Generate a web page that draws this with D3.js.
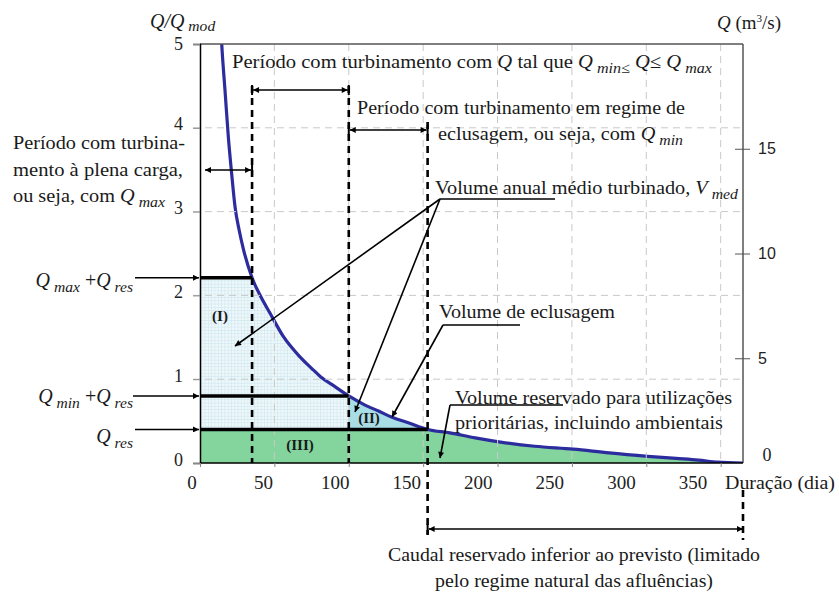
<!DOCTYPE html>
<html><head><meta charset="utf-8">
<script src="https://cdn.jsdelivr.net/npm/d3@7/dist/d3.min.js"></script>
<style>
body{margin:0;background:#fff}
svg{display:block}
</style></head>
<body>
<svg id="c" width="839" height="592"></svg>
<script>
// ---- data ----
const days   = [8, 12, 14.6, 17, 19, 21.3, 23.6, 26.3, 29.2, 35, 41, 47, 56, 67, 75, 81, 90, 100, 110, 120, 130, 140, 153, 168, 185, 202, 225, 251, 275, 301, 320, 335, 348, 365];
const qRatio = [8.0, 6.0, 5.0, 4.4, 3.9, 3.45, 3.05, 2.78, 2.55, 2.21, 1.98, 1.79, 1.51, 1.27, 1.13, 1.03, 0.92, 0.80, 0.70, 0.62, 0.54, 0.48, 0.40, 0.36, 0.30, 0.25, 0.20, 0.165, 0.12, 0.08, 0.055, 0.035, 0.01, 0.0];
const xTicks = [0, 50, 100, 150, 200, 250, 300, 350];
const yTicksLeft = [0, 1, 2, 3, 4, 5];
const yTicksRight = [5, 10, 15];
const gridX = [50, 100, 150, 200, 250, 300, 350];
const gridY = [1, 2, 3, 4];
const QmaxRes = 2.21, QminRes = 0.80, Qres = 0.40;
const dayFull = 35, dayMin = 100, dayRes = 153, dayEnd = 365;

const svg = d3.select('#c');
const SERIF = '"Liberation Serif","Times New Roman",serif';
const SANS = '"Liberation Sans",Arial,sans-serif';

const x = d3.scaleLinear().domain([0, 365]).range([200, 743]);
const y = d3.scaleLinear().domain([0, 5]).range([463, 44]);
const yR = d3.scaleLinear().domain([0, 20]).range([463, 44]);
const xLab = d3.scaleLinear().domain([0, 350]).range([192, 693]);

const pts = days.map((d, i) => ({d, q: qRatio[i]}));

// defs
const defs = svg.append('defs');
const pat = defs.append('pattern').attr('id', 'hatch').attr('patternUnits', 'userSpaceOnUse').attr('width', 3.3).attr('height', 3.3);
pat.append('rect').attr('width', 3.3).attr('height', 3.3).attr('fill', '#eef8fb');
pat.append('path').attr('d', 'M0,0.3H3.3M0.3,0V3.3').attr('stroke', '#cfe6ee').attr('stroke-width', 0.7);
defs.append('clipPath').attr('id', 'plot').append('rect')
  .attr('x', x(0)).attr('y', y(5)).attr('width', x(365) - x(0)).attr('height', y(0) - y(5));
function marker(id, orient) {
  defs.append('marker').attr('id', id).attr('viewBox', '0 0 10 10').attr('refX', 10).attr('refY', 5)
    .attr('markerWidth', 9).attr('markerHeight', 6).attr('markerUnits', 'userSpaceOnUse').attr('orient', orient)
    .append('path').attr('d', 'M0,0L10,5L0,10z').attr('fill', '#000');
}
marker('ah', 'auto'); marker('ahs', 'auto-start-reverse');

const plot = svg.append('g').attr('clip-path', 'url(#plot)');

// hatched region (I)
const areaI = [{d: 0, q: QmaxRes}].concat(pts.filter(p => p.d <= dayMin).map(p => ({d: p.d, q: Math.min(p.q, QmaxRes)})));
const cv = d3.curveMonotoneX;
plot.append('path').datum(areaI)
  .attr('d', d3.area().x(p => x(p.d)).y0(y(Qres)).y1(p => y(p.q)).curve(cv))
  .attr('fill', 'url(#hatch)');

// grid
const grid = svg.append('g').attr('stroke', '#c9c9c9').attr('stroke-width', 1).attr('stroke-dasharray', '7,5');
grid.selectAll('.gx').data(gridX).join('line').attr('x1', d => x(d)).attr('x2', d => x(d)).attr('y1', y(5)).attr('y2', y(0));
grid.selectAll('.gy').data(gridY).join('line').attr('x1', x(0) - 7).attr('x2', x(365)).attr('y1', d => y(d)).attr('y2', d => y(d));

// region II
const areaII = pts.filter(p => p.d >= dayMin && p.d <= dayRes);
plot.append('path').datum(areaII)
  .attr('d', d3.area().x(p => x(p.d)).y0(y(Qres)).y1(p => y(p.q)).curve(cv))
  .attr('fill', '#a9dde6');

// green region III
const areaIII = [{d: 0, q: Qres}].concat(pts.filter(p => p.d >= dayRes));
plot.append('path').datum(areaIII)
  .attr('d', d3.area().x(p => x(p.d)).y0(y(0)).y1(p => y(p.q)).curve(cv))
  .attr('fill', '#84d49d');

// frame
svg.append('line').attr('x1', x(0)).attr('x2', x(365)).attr('y1', y(5)).attr('y2', y(5)).attr('stroke', '#555').attr('stroke-width', 1.5);
svg.append('line').attr('x1', x(365)).attr('x2', x(365)).attr('y1', y(5)).attr('y2', y(0)).attr('stroke', '#555').attr('stroke-width', 1.5);

// axes
const axL = svg.append('g').attr('transform', `translate(${x(0)},0)`)
  .call(d3.axisLeft(y).tickValues(yTicksLeft).tickSize(7).tickPadding(10).tickFormat(d3.format('d')));
axL.select('.domain').attr('stroke', '#000').attr('stroke-width', 1.5);
axL.selectAll('.tick line').attr('stroke', '#888');
axL.selectAll('.tick text').attr('font-family', SERIF).attr('font-size', 18).attr('fill', '#222').attr('dy', d => d === 5 ? '0.32em' : '0.12em');

const axB = svg.append('g').attr('transform', `translate(0,${y(0)})`)
  .call(d3.axisBottom(x).tickValues(xTicks).tickSize(4).tickFormat(''));
axB.select('.domain').attr('stroke', '#000').attr('stroke-width', 1.5).attr('d', `M${x(0)},0H${x(365)}`);
axB.selectAll('.tick line').attr('stroke', '#888');
svg.append('g').selectAll('text').data(xTicks).join('text')
  .attr('x', d => xLab(d)).attr('y', 489).attr('text-anchor', 'middle')
  .attr('font-family', SERIF).attr('font-size', 19).attr('fill', '#222').text(d => d);

const axR = svg.append('g').attr('transform', `translate(${x(365)},0)`)
  .call(d3.axisRight(yR).tickValues(yTicksRight).tickSize(7).tickPadding(8));
axR.select('.domain').remove();
axR.selectAll('.tick line').attr('x1', -8).attr('stroke', '#555');
axR.selectAll('.tick text').attr('font-family', SANS).attr('font-size', 16).attr('fill', '#222');
svg.append('text').attr('x', 767).attr('y', 461).attr('text-anchor', 'middle').attr('font-family', SERIF).attr('font-size', 18).attr('fill', '#222').text('0');

// curve
plot.append('path').datum(pts)
  .attr('d', d3.line().x(p => x(p.d)).y(p => y(p.q)).curve(cv))
  .attr('fill', 'none').attr('stroke', '#2c2c9e').attr('stroke-width', 3.2);

// thick level lines
const lev = svg.append('g').attr('stroke', '#000').attr('stroke-width', 3.5);
lev.append('line').attr('x1', x(0)).attr('x2', x(dayFull)).attr('y1', y(QmaxRes)).attr('y2', y(QmaxRes));
lev.append('line').attr('x1', x(0)).attr('x2', x(dayMin)).attr('y1', y(QminRes)).attr('y2', y(QminRes));
lev.append('line').attr('x1', x(0)).attr('x2', x(dayRes)).attr('y1', y(Qres)).attr('y2', y(Qres));

// dashed vertical lines
const dash = svg.append('g').attr('stroke', '#000').attr('stroke-width', 2.6).attr('stroke-dasharray', '7,5');
dash.append('line').attr('x1', x(dayFull)).attr('x2', x(dayFull)).attr('y1', 86).attr('y2', y(0));
dash.append('line').attr('x1', x(dayMin)).attr('x2', x(dayMin)).attr('y1', 86).attr('y2', y(0));
dash.append('line').attr('x1', x(dayRes)).attr('x2', x(dayRes)).attr('y1', 122).attr('y2', 535);
dash.append('line').attr('x1', x(dayEnd)).attr('x2', x(dayEnd)).attr('y1', 490).attr('y2', 540);

// arrows helper
const ann = svg.append('g').attr('stroke', '#000').attr('stroke-width', 1.6).attr('fill', 'none');
function arrow(x1, y1, x2, y2, start, end) {
  const l = ann.append('line').attr('x1', x1).attr('y1', y1).attr('x2', x2).attr('y2', y2);
  if (end) l.attr('marker-end', 'url(#ah)');
  if (start) l.attr('marker-start', 'url(#ahs)');
}
function bar(xx, yy) { ann.append('line').attr('x1', xx).attr('x2', xx).attr('y1', yy - 5).attr('y2', yy + 5).attr('stroke-width', 2); }

arrow(x(dayFull) + 1, 90, x(dayMin) - 1, 90, true, true); bar(x(dayFull), 90); bar(x(dayMin), 90);
arrow(x(dayMin) + 1, 130, x(dayRes) - 1, 130, true, true); bar(x(dayMin), 130); bar(x(dayRes), 130);
arrow(205, 170, x(dayFull) - 1, 170, true, true); bar(x(dayFull), 170);
arrow(x(dayRes) + 1, 529, x(dayEnd), 529, true, true); bar(x(dayRes), 529);

// left level arrows
arrow(135, y(QmaxRes), x(0) - 1, y(QmaxRes), false, true);
arrow(133, y(QminRes), x(0) - 1, y(QminRes), false, true);
arrow(135, y(Qres), x(0) - 1, y(Qres), false, true);

// leader lines
ann.append('line').attr('x1', 440).attr('y1', 199).attr('x2', 555).attr('y2', 199);
arrow(440, 199, 235, 346, false, true);
arrow(440, 199, 355, 412, false, true);
ann.append('line').attr('x1', 443).attr('y1', 325).attr('x2', 520).attr('y2', 325);
arrow(443, 325, 392, 417, false, true);
ann.append('line').attr('x1', 450).attr('y1', 405).attr('x2', 563).attr('y2', 405);
arrow(450, 405, 440, 458, false, true);

// rich text helper
function rich(xx, yy, parts, opts = {}) {
  const t = svg.append('text').attr('x', xx).attr('y', yy)
    .attr('font-family', SERIF).attr('font-size', opts.size || 19).attr('fill', '#1a1a1a');
  if (opts.anchor) t.attr('text-anchor', opts.anchor);
  if (opts.weight) t.attr('font-weight', opts.weight);
  const sd = opts.subDy || 5;
  let inSub = false;
  parts.forEach(p => {
    const s = t.append('tspan').text(p.t);
    if (p.i) s.attr('font-style', 'italic');
    if (p.sup) { s.attr('font-size', 11).attr('dy', -7); return; }
    if (p.unsup) { s.attr('dy', 7); return; }
    if (p.sub && !inSub) { s.attr('dy', sd).attr('font-size', (opts.size || 19) * 0.78); inSub = true; }
    else if (p.sub) { s.attr('font-size', (opts.size || 19) * 0.78); }
    else if (!p.sub && inSub) { s.attr('dy', -sd); inSub = false; }
  });
  if (opts.len) t.attr('textLength', opts.len).attr('lengthAdjust', 'spacingAndGlyphs');
  return t;
}

rich(150, 28, [{t: 'Q/Q', i: 1}, {t: ' mod', i: 1, sub: 1}], {size: 20, subDy: 3});
rich(717, 29, [{t: 'Q', i: 1}, {t: '  (m'}, {t: '3', sup: 1}, {t: '/s)', unsup: 1}], {size: 19});

rich(232, 68, [{t: 'Período com turbinamento com '}, {t: 'Q', i: 1}, {t: '  tal que '}, {t: 'Q', i: 1}, {t: ' min', i: 1, sub: 1}, {t: '≤', sub: 1}, {t: '  '}, {t: 'Q', i: 1}, {t: '≤  '}, {t: 'Q', i: 1}, {t: ' max', i: 1, sub: 1}], {len: 480});
rich(357, 114, [{t: 'Período com turbinamento em regime de'}], {len: 328});
rich(438, 140, [{t: 'eclusagem, ou seja, com '}, {t: 'Q', i: 1}, {t: ' min', i: 1, sub: 1}], {len: 245});

rich(13, 149, [{t: 'Período com turbina-'}], {len: 172});
rich(13, 176, [{t: 'mento à plena carga,'}], {len: 170});
rich(13, 202, [{t: 'ou seja, com '}, {t: 'Q', i: 1}, {t: ' max', i: 1, sub: 1}], {len: 152});

rich(435, 194, [{t: 'Volume anual médio turbinado, '}, {t: 'V', i: 1}, {t: ' med', i: 1, sub: 1}], {len: 303});
rich(439, 318, [{t: 'Volume de eclusagem'}], {len: 176});
rich(455, 404, [{t: 'Volume reservado para utilizações'}], {len: 277});
rich(455, 429, [{t: 'prioritárias, incluindo ambientais'}], {len: 268});

rich(388, 561, [{t: 'Caudal reservado inferior ao previsto (limitado'}], {len: 372});
rich(435, 587, [{t: 'pelo regime natural  das afluências)'}], {len: 278});
rich(725, 489, [{t: 'Duração (dia)'}], {len: 110});

rich(133, 287, [{t: 'Q', i: 1}, {t: ' max', i: 1, sub: 1}, {t: ' +', i: 0}, {t: 'Q', i: 1}, {t: ' res', i: 1, sub: 1}], {anchor: 'end', size: 20});
rich(133, 403, [{t: 'Q', i: 1}, {t: ' min', i: 1, sub: 1}, {t: ' +', i: 0}, {t: 'Q', i: 1}, {t: ' res', i: 1, sub: 1}], {anchor: 'end', size: 20});
rich(133, 443, [{t: 'Q', i: 1}, {t: ' res', i: 1, sub: 1}], {anchor: 'end', size: 20});

rich(220, 321, [{t: '(I)'}], {anchor: 'middle', size: 15, weight: 'bold'});
rich(369, 423, [{t: '(II)'}], {anchor: 'middle', size: 15, weight: 'bold'});
rich(300, 450, [{t: '(III)'}], {anchor: 'middle', size: 15, weight: 'bold'});
</script>
</body></html>
